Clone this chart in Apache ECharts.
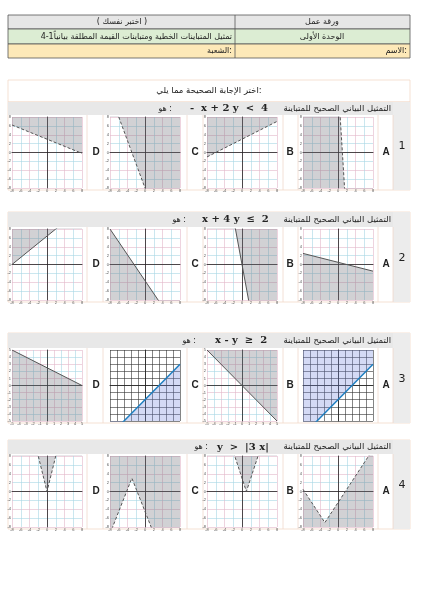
<!DOCTYPE html>
<html>
<head>
<meta charset="utf-8">
<script src="https://cdn.jsdelivr.net/npm/echarts@6/dist/echarts.min.js"></script>
<style>html,body{margin:0;padding:0;background:#fff}#main{width:424px;height:593px}</style>
</head>
<body>
<div id="main"></div>
<script>
// 题目文字
var questionNos = ['1', '2', '3', '4'];
var choiceLabels = ['A', 'B', 'C', 'D'];
var questionMath = ['-  x + 2 y  <  4', 'x + 4 y  ≤  2', 'x - y  ≥  2', 'y  >  |3 x|'];
var questionAr = 'التمثيل البياني الصحيح للمتباينة';

// 每个小图的边界线 (A, B, C, D)
var q1Lines = [
    [[-8, 144], [0.5, 8], [1.5, -8], [8, -112]],
    [[-8, -1], [8, 7]],
    [[-8, 13.3], [-6, 8], [0, -8], [8, -29.3]],
    [[-8, 6.2], [8, -0.2]]
];
var q1Side = ['start', 'end', 'end', 'end'];
var q2Lines = [
    [[-8, 2.5], [8, -1.5]],
    [[-8, 50], [-1.5, 8], [1.5, -8], [8, -42]],
    [[-8, 8], [3, -8], [8, -15]],
    [[-8, 0], [2, 8], [8, 12.8]]
];
var q2Side = ['start', 'end', 'start', 'end'];
var q3Lines = [
    [[-5, -7], [-3, -5], [5, 3]],
    [[-5, 5], [5, -5]],
    [[-5, -7], [-3, -5], [5, 3]],
    [[-5, 5], [5, 0]]
];
var q3Side = ['end', 'end', 'start', 'start'];
var q4Lines = [
    [[-8, 0.5], [-3, -7], [8, 9.5]],
    [[-8, 27], [1, 0], [8, 21]],
    [[-8, -9.5], [-3, 3], [8, -24.5]],
    [[-8, 32], [0, 0], [8, 32]]
];
var q4Side = ['start', 'end', 'end', 'end'];

var allLines = [q1Lines, q2Lines, q3Lines, q4Lines];
var allSides = [q1Side, q2Side, q3Side, q4Side];
var dashed = [true, false, false, true];

// 版面位置
var blockTop = [102, 212, 333, 440];
var graphTop = [117, 229, 350, 456];
var graphH = 71;
var graphLeft = [303, 207, 110, 12];
var graphW = 70;
var labelX = [386, 290, 195, 96];
var dividers = [87, 103, 187, 203, 283, 298, 378, 393];
var mathLeft = [190, 202, 215, 217];
var huoRight = [172, 186, 196, 208];

(function () {
var font = '"DejaVu Sans", sans-serif';
var graphic = [];
function rect(x, y, w, h, fill, stroke) {
    graphic.push({ type: 'rect', shape: { x: x, y: y, width: w, height: h }, style: { fill: fill || 'none', stroke: stroke || 'none', lineWidth: 0.8 } });
}
function text(x, y, t, f, align) {
    graphic.push({ type: 'text', style: { x: x, y: y, text: t, font: f, fill: '#222', align: align || 'left', verticalAlign: 'middle' } });
}
var f8 = '8px ' + font;

// 表头
rect(8, 15, 402, 14, '#e6e6e6', '#555');
rect(8, 29, 402, 15, '#dcedd3', '#555');
rect(8, 44, 402, 14, '#fde9b8', '#555');
graphic.push({ type: 'line', shape: { x1: 235, y1: 15, x2: 235, y2: 58 }, style: { stroke: '#555', lineWidth: 0.8 } });
text(322, 22, 'ورقة عمل', f8, 'center');
text(122, 22, '( اختبر نفسك )', f8, 'center');
text(322, 36.5, 'الوحدة الأولى', f8, 'center');
text(232, 36.5, '4-1تمثيل المتباينات الخطية ومتباينات القيمة المطلقة بيانياً', f8, 'right');
text(407, 51, 'الاسم:', f8, 'right');
text(232, 51, 'الشعبة:', f8, 'right');

// 题目框
rect(8, 80, 402, 22, '#fff', '#f3d9c8');
text(209, 91, 'اختر الإجابة الصحيحة مما يلي:', '8.5px ' + font, 'center');
for (var q = 0; q < 4; q++) {
    var bTop = blockTop[q], bBottom = graphTop[q] + graphH + 2;
    rect(8, bTop, 402, bBottom - bTop, '#fff', '#f3d9c8');
    rect(8, bTop, 385, graphTop[q] - 2 - bTop, '#e8e8e8');
    rect(393, bTop, 17, bBottom - bTop, '#ececec');
    for (var d = 0; d < dividers.length; d++) {
        graphic.push({ type: 'line', shape: { x1: dividers[d], y1: graphTop[q] - 2, x2: dividers[d], y2: bBottom }, style: { stroke: '#f0d8cc', lineWidth: 0.8 } });
    }
    var hy = (bTop + graphTop[q] - 2) / 2;
    text(391, hy, questionAr, '8.5px ' + font, 'right');
    text(mathLeft[q], hy, questionMath[q], 'bold 10px "DejaVu Serif", serif', 'left');
    text(huoRight[q], hy, 'هو :', f8, 'right');
    text(402, graphTop[q] + graphH / 2 - 6, questionNos[q], '11px ' + font, 'center');
    for (var c = 0; c < 4; c++) {
        text(labelX[c], graphTop[q] + graphH / 2, choiceLabels[c], 'bold 10px "Liberation Sans", Arial', 'center');
    }
}

// 小图
var grids = [], xAxes = [], yAxes = [], series = [];
for (var q2 = 0; q2 < 4; q2++) {
    for (var c2 = 0; c2 < 4; c2++) {
        var idx = grids.length;
        var blue = q2 === 2 && (c2 === 0 || c2 === 2);
        var r = q2 === 2 ? 5 : 8, step = q2 === 2 ? 1 : 2;
        grids.push({ left: graphLeft[c2], top: graphTop[q2], width: graphW, height: graphH, show: true,
            backgroundColor: blue ? '#fff' : '#ececf0', borderColor: blue ? '#555' : '#ccc', borderWidth: 1 });
        var split = blue ? { lineStyle: { color: '#333', width: 0.6 } } : { lineStyle: { color: ['#e3b7c9', '#a8d6e4'], width: 0.6 } };
        var lab = { show: !blue, fontSize: 4, color: '#555', margin: 1 };
        xAxes.push({ type: 'value', gridIndex: idx, min: -r, max: r, interval: step, splitLine: split,
            axisLine: { onZero: true, lineStyle: { color: '#222', width: 0.8 } }, axisTick: { show: false }, axisLabel: lab });
        yAxes.push({ type: 'value', gridIndex: idx, min: -r, max: r, interval: step, splitLine: split,
            axisLine: { onZero: true, lineStyle: { color: '#222', width: 0.8 } }, axisTick: { show: false }, axisLabel: lab });
        series.push({ type: 'line', xAxisIndex: idx, yAxisIndex: idx, data: allLines[q2][c2], symbol: 'none', clip: true, silent: true,
            lineStyle: { color: blue ? '#1f7fc0' : '#555', width: blue ? 1.5 : 1, type: dashed[q2] ? [3, 2] : 'solid' },
            areaStyle: { origin: allSides[q2][c2], color: blue ? 'rgba(120,140,225,0.45)' : 'rgba(110,110,120,0.45)' } });
    }
}

var chart = echarts.init(document.getElementById('main'));
chart.setOption({
    animation: false,
    grid: grids,
    xAxis: xAxes,
    yAxis: yAxes,
    series: series,
    graphic: graphic
});
})();
</script>
</body>
</html>
